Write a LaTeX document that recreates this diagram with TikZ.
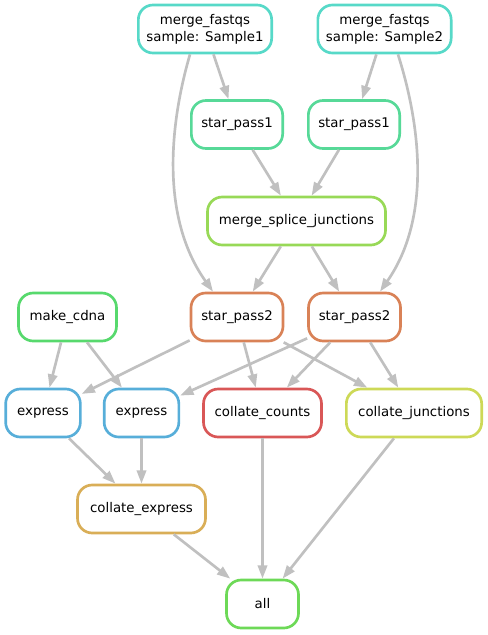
\documentclass[tikz,border=0pt]{standalone}
\usepackage{fontspec}
\setmainfont{DejaVu Sans}
\usetikzlibrary{arrows.meta}
\definecolor{cmf}{RGB}{87,217,200}
\definecolor{csa}{RGB}{87,217,152}
\definecolor{cmsj}{RGB}{152,217,87}
\definecolor{cmc}{RGB}{87,217,109}
\definecolor{csb}{RGB}{217,130,87}
\definecolor{cex}{RGB}{87,174,217}
\definecolor{ccc}{RGB}{217,87,87}
\definecolor{ccj}{RGB}{205,217,87}
\definecolor{cce}{RGB}{217,174,87}
\definecolor{call}{RGB}{109,217,87}
\definecolor{edgegray}{RGB}{192,192,192}
\begin{document}
\begin{tikzpicture}[x=0.75pt,y=-0.75pt,
  job/.style={draw=#1, line width=2pt, rounded corners=11pt, minimum height=36pt,
    inner sep=0pt, fill=white, font=\fontsize{10}{12.5}\selectfont, align=center},
  edge/.style={draw=edgegray, line width=2pt, -{Triangle[length=10pt,width=7pt]}}]
\useasboundingbox (0,0) rectangle (488,635);

\node[job=cmf, minimum width=100pt] (mf1) at (205,29) {merge\_fastqs\\sample: Sample1};
\node[job=cmf, minimum width=100pt] (mf2) at (384.5,29) {merge\_fastqs\\sample: Sample2};
\node[job=csa, minimum width=68.5pt] (sp1a) at (237,124.5) {star\_pass1};
\node[job=csa, minimum width=68.5pt] (sp1b) at (354,124.5) {star\_pass1};
\node[job=cmsj, minimum width=133.5pt] (msj) at (296.5,221) {merge\_splice\_junctions};
\node[job=cmc, minimum width=73.5pt] (mc) at (67.5,317) {make\_cdna};
\node[job=csb, minimum width=69pt] (sp2a) at (237,317) {star\_pass2};
\node[job=csb, minimum width=69pt] (sp2b) at (354.5,317) {star\_pass2};
\node[job=cex, minimum width=56pt] (exa) at (43,413) {express};
\node[job=cex, minimum width=56pt] (exb) at (141.5,413) {express};
\node[job=ccc, minimum width=88.5pt] (cc) at (262.5,413) {collate\_counts};
\node[job=ccj, minimum width=101.5pt] (cj) at (414,413) {collate\_junctions};
\node[job=cce, minimum width=96pt] (ce) at (141.5,509) {collate\_express};
\node[job=call, minimum width=54pt] (all) at (262.5,604) {all};

\draw[edge] (mf1) -- (sp1a);
\draw[edge] (mf2) -- (sp1b);
\draw[edge] ([xshift=-11.25pt]mf1.south) .. controls (168,130) and (162,220) .. ([xshift=-18pt]sp2a.north);
\draw[edge] ([xshift=10.1pt]mf2.south) .. controls (422,130) and (430,220) .. ([xshift=19.1pt]sp2b.north);
\draw[edge] (sp1a) -- (msj);
\draw[edge] (sp1b) -- (msj);
\draw[edge] (msj) -- (sp2a);
\draw[edge] (msj) -- (sp2b);
\draw[edge] (mc) -- (exa);
\draw[edge] (mc) -- (exb);
\draw[edge] (sp2a) -- (exa);
\draw[edge] (sp2a) -- (cc);
\draw[edge] (sp2a) -- (cj);
\draw[edge] (sp2b) -- (exb);
\draw[edge] (sp2b) -- (cc);
\draw[edge] (sp2b) -- (cj);
\draw[edge] (exa) -- (ce);
\draw[edge] (exb) -- (ce);
\draw[edge] (ce) -- (all);
\draw[edge] (cc) -- (all);
\draw[edge] (cj) -- (all);
\end{tikzpicture}
\end{document}
